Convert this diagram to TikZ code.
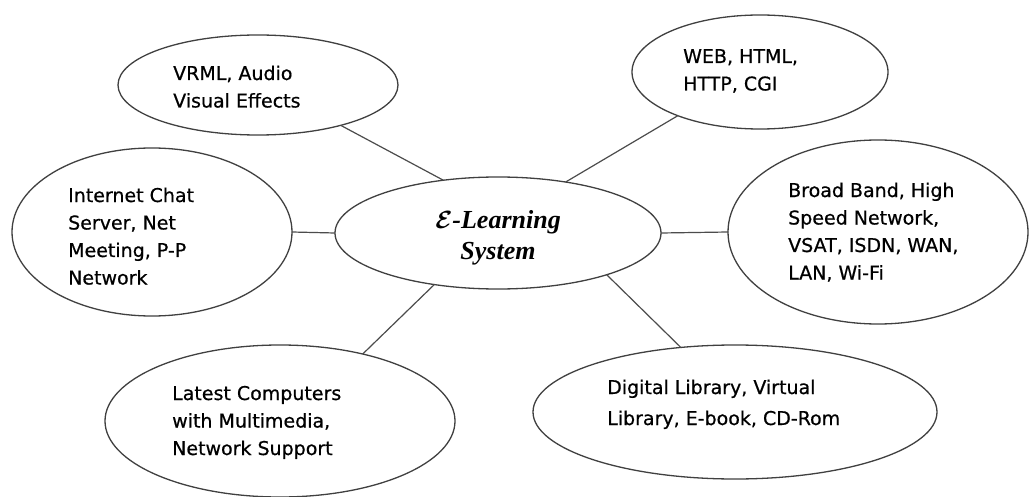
\documentclass[tikz,border=0pt]{standalone}
\usepackage{fontspec}
\setsansfont[FakeBold=0.6]{DejaVu Sans}
\newfontfamily\ctrfont{Liberation Serif}
\usetikzlibrary{shapes.geometric}
\tikzset{
  ell/.style={ellipse, draw=black!75, line width=1.3pt, inner sep=0pt, outer sep=0pt},
  link/.style={draw=black!70, line width=1.2pt},
  lbl/.style={anchor=base west, inner sep=0pt, font=\sffamily\fontsize{19}{27.5}\selectfont},
  ctr/.style={anchor=base, inner sep=0pt, font=\ctrfont\bfseries\itshape\fontsize{26}{31}\selectfont}
}
\begin{document}
\begin{tikzpicture}[x=1pt,y=-1pt]
\useasboundingbox[fill=white] (0,0) rectangle (1030,497);
% ellipses
\node[ell, minimum width=280pt, minimum height=100pt] (vr) at (258,85) {};
\node[ell, minimum width=256pt, minimum height=114pt] (web) at (760,72) {};
\node[ell, minimum width=280pt, minimum height=168pt] (chat) at (152,232) {};
\node[ell, minimum width=326pt, minimum height=112pt] (c) at (498,233) {};
\node[ell, minimum width=300pt, minimum height=184pt] (bb) at (878,232) {};
\node[ell, minimum width=350pt, minimum height=152pt] (lc) at (280,421) {};
\node[ell, minimum width=404pt, minimum height=134pt] (dl) at (735,412) {};
% connectors
\draw[link] (c.136.6) -- (vr.-26.6);
\draw[link] (c.37.3) -- (web.208);
\draw[link] (c.west) -- (chat.east);
\draw[link] (c.east) -- (bb.west);
\draw[link] (c.219) -- (lc.39.7);
\draw[link] (c.-21) -- (dl.130.8);
% texts
\node[ctr] (ct) at (498,229) {\begin{tabular}[t]{@{}c@{}}\boldmath$\mathcal{E}$\unboldmath-Learning\\ System\end{tabular}};
\node[lbl] (tvr) at (173,80) {\begin{tabular}[t]{@{}l@{}}VRML, Audio\\ Visual Effects\end{tabular}};
\node[lbl] (tweb) at (683,63) {\begin{tabular}[t]{@{}l@{}}WEB, HTML,\\ HTTP, CGI\end{tabular}};
\node[lbl] (tchat) at (68,202) {\begin{tabular}[t]{@{}l@{}}Internet Chat\\ Server, Net\\ Meeting, P-P\\ Network\end{tabular}};
\node[lbl] (tbb) at (788,197) {\begin{tabular}[t]{@{}l@{}}Broad Band, High\\ Speed Network,\\ VSAT, ISDN, WAN,\\ LAN, Wi-Fi\end{tabular}};
\node[lbl] (tlc) at (172,400) {\begin{tabular}[t]{@{}l@{}}Latest Computers\\ with Multimedia,\\ Network Support\end{tabular}};
\node[lbl, font=\sffamily\fontsize{19}{31}\selectfont] (tdl) at (607,394) {\begin{tabular}[t]{@{}l@{}}Digital Library, Virtual\\ Library, E-book, CD-Rom\end{tabular}};
\end{tikzpicture}
\end{document}
